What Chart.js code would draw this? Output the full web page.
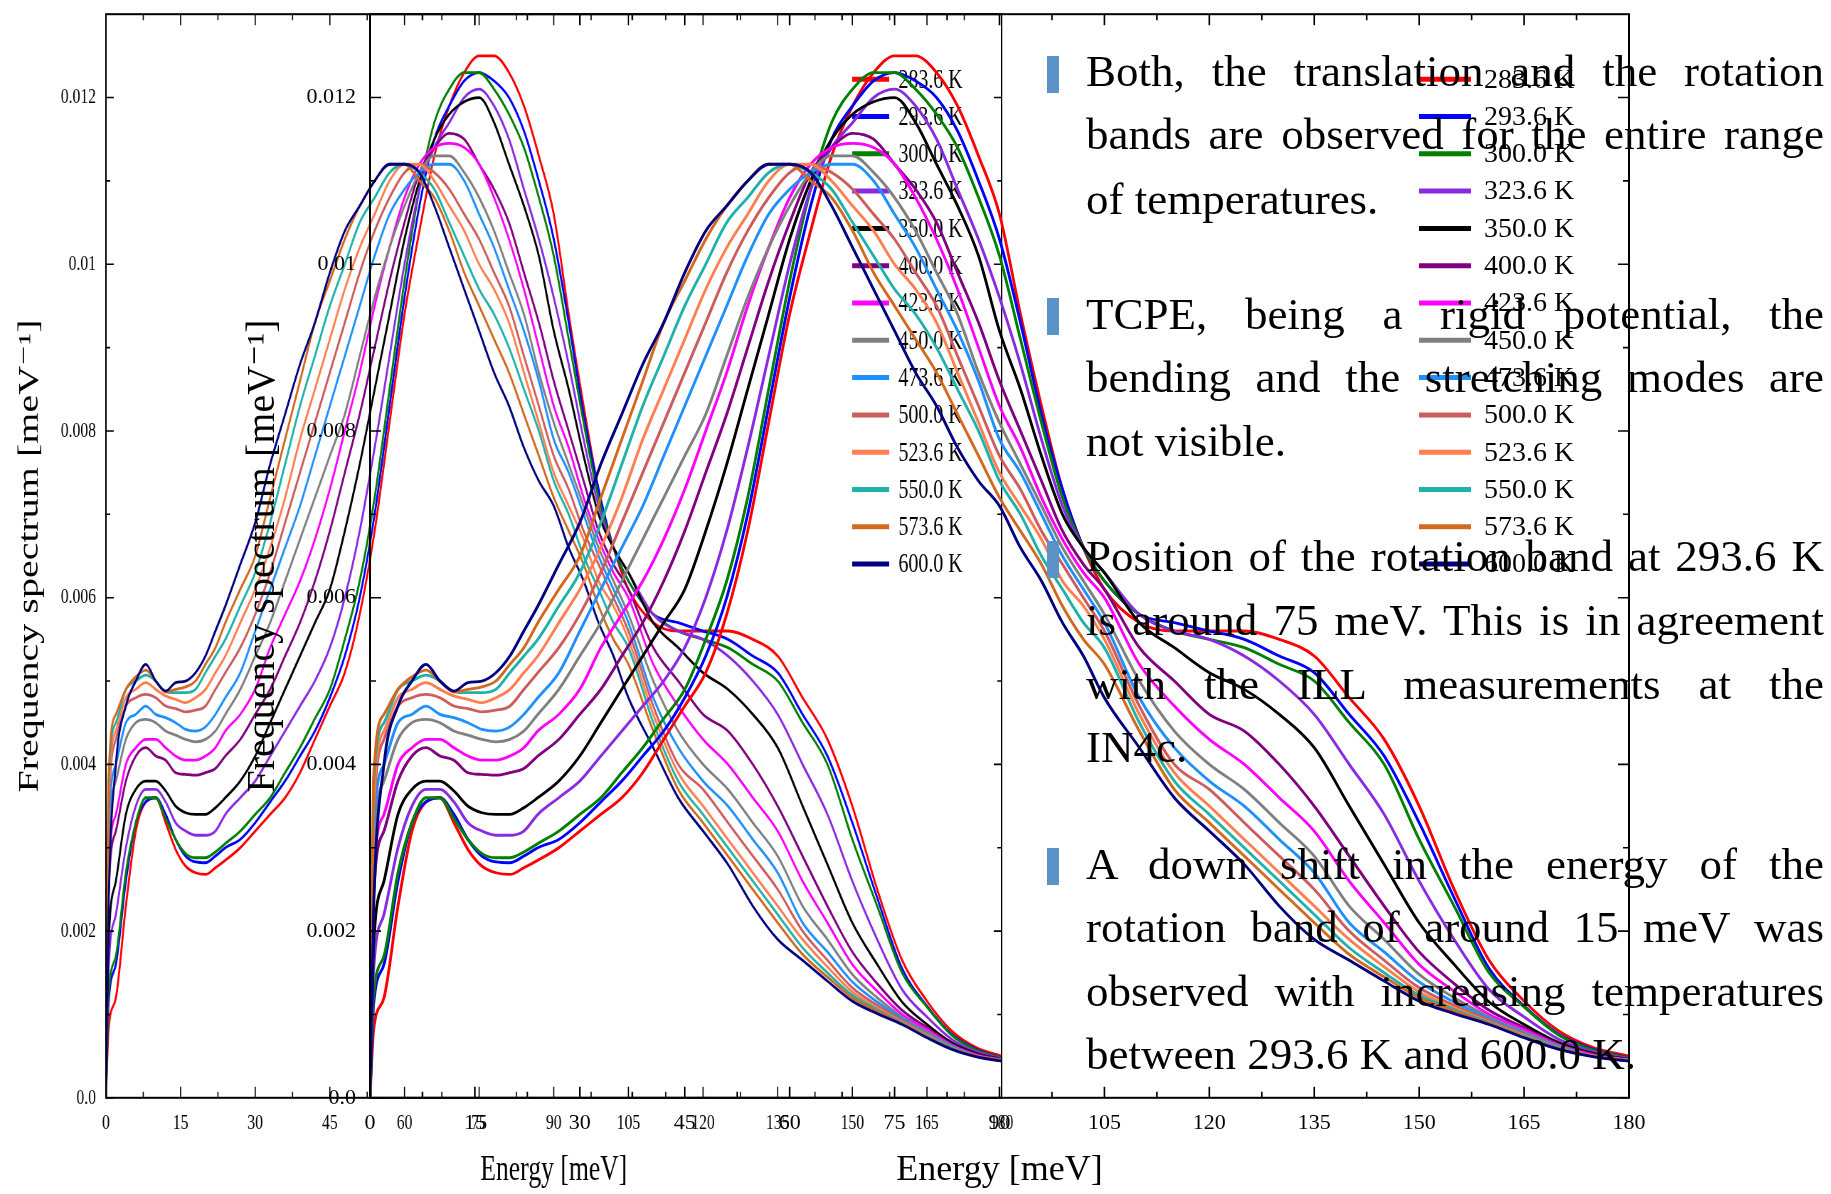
<!DOCTYPE html>
<html>
<head>
<meta charset="utf-8">
<script src="https://cdn.jsdelivr.net/npm/chart.js@4.4.0/dist/chart.umd.min.js"></script>
<style>
    html, body { margin: 0; padding: 0; background: #fff; }
    body { position: relative; width: 1831px; height: 1194px; overflow: hidden; }
    .fig { position: absolute; top: -13px; width: 1560px; height: 1207px; }
    #figWide { left: 200px; }
    /* same figure, squeezed horizontally */
    #figNarrow { left: -14.6px; transform: scaleX(0.7114); transform-origin: 0 0; }
    #notes { position: absolute; left: 1086px; top: 0; width: 738px; height: 1194px;
             font-family: 'Liberation Serif', serif; font-size: 45px; color: #000; }
    .ln { position: absolute; left: 0; width: 738px; line-height: 60px; white-space: normal; }
    .j { text-align: justify; text-align-last: justify; }
    .bul { position: absolute; left: -39px; width: 12px; height: 37px; background: #5b93c9; }
</style>
</head>
<body>
<div class="fig" id="figNarrow"><canvas id="chartNarrow"></canvas></div>
<div class="fig" id="figWide"><canvas id="chartWide"></canvas></div>

<div id="notes">
    <div class="bul" style="top:56px"></div>
    <div class="ln j" style="top:41px">Both, the translation and the rotation</div>
    <div class="ln j" style="top:104px">bands are observed for the entire range</div>
    <div class="ln" style="top:169px">of temperatures.</div>

    <div class="bul" style="top:298px"></div>
    <div class="ln j" style="top:284px">TCPE, being a rigid potential, the</div>
    <div class="ln j" style="top:347px">bending and the stretching modes are</div>
    <div class="ln" style="top:411px">not visible.</div>

    <div class="bul" style="top:541px"></div>
    <div class="ln j" style="top:526px">Position of the rotation band at 293.6 K</div>
    <div class="ln j" style="top:590px">is around 75 meV. This is in agreement</div>
    <div class="ln j" style="top:654px">with the ILL measurements at the</div>
    <div class="ln" style="top:717px">IN4c.</div>

    <div class="bul" style="top:848px"></div>
    <div class="ln j" style="top:834px">A down shift in the energy of the</div>
    <div class="ln j" style="top:897px">rotation band of around 15 meV was</div>
    <div class="ln j" style="top:961px">observed with increasing temperatures</div>
    <div class="ln" style="top:1024px">between 293.6 K and 600.0 K.</div>
</div>

<script>
// Frequency spectrum vs energy, one curve per temperature

const energy = [0, 0.5, 2, 4, 6, 8, 10, 12, 14, 16, 18, 20, 22, 24, 27, 30, 33, 36, 39, 42, 45, 48, 51, 54, 57, 60,
    63, 66, 69, 72, 75, 78, 81, 84, 87, 90, 93, 96, 99, 102, 105, 110, 115, 120, 125, 130, 135, 140, 145, 150,
    155, 160, 165, 170, 175, 180];

const t2836 = [0, 0.0008, 0.0012, 0.0023, 0.0032, 0.00355, 0.0036, 0.0033, 0.00298, 0.00278, 0.0027, 0.00268, 0.00276, 0.00285,
    0.0030, 0.0032, 0.0034, 0.0036, 0.0039, 0.0043, 0.0047, 0.0051, 0.0058, 0.0068, 0.0081, 0.0094, 0.0104, 0.0113,
    0.0119, 0.0123, 0.0125, 0.0125, 0.0123, 0.0119, 0.0113, 0.0106, 0.0094, 0.0083, 0.0073, 0.0066, 0.0061,
    0.0057, 0.0056, 0.0056, 0.0056, 0.0055, 0.0053, 0.0048, 0.0043, 0.0035, 0.0025, 0.00165, 0.00116, 0.0008, 0.0006, 0.0005];
const t2936 = [0, 0.0011, 0.0016, 0.0026, 0.0033, 0.00355, 0.0036, 0.0034, 0.0031, 0.0029, 0.00283, 0.00282, 0.0029, 0.0030,
    0.0031, 0.0033, 0.00355, 0.0038, 0.0041, 0.0044, 0.0048, 0.0053, 0.0060, 0.0070, 0.0083, 0.0096, 0.0107, 0.0115,
    0.0119, 0.0122, 0.0123, 0.0122, 0.0120, 0.0116, 0.0110, 0.0103, 0.0093, 0.0082, 0.0073, 0.0066, 0.0062,
    0.0058, 0.0057, 0.0056, 0.0055, 0.0053, 0.0051, 0.0046, 0.0041, 0.0033, 0.0024, 0.00155, 0.0011, 0.00076, 0.00058, 0.00048];
const t3000 = [0, 0.0012, 0.0017, 0.0027, 0.0033, 0.0036, 0.0036, 0.00335, 0.0031, 0.00293, 0.00288, 0.00288, 0.00295, 0.00305,
    0.0032, 0.0034, 0.0036, 0.0039, 0.0042, 0.00455, 0.0049, 0.0055, 0.0062, 0.0072, 0.0085, 0.0098, 0.0109, 0.0117,
    0.0121, 0.0123, 0.0123, 0.0121, 0.0118, 0.0114, 0.0108, 0.0101, 0.0091, 0.0081, 0.0072, 0.0066, 0.0062,
    0.0058, 0.0056, 0.0055, 0.0054, 0.0052, 0.0050, 0.0045, 0.0040, 0.0031, 0.0023, 0.0015, 0.00109, 0.00075, 0.00057, 0.00048];
const t3236 = [0, 0.0015, 0.0022, 0.0030, 0.0035, 0.0037, 0.0037, 0.00355, 0.0033, 0.0032, 0.00315, 0.00315, 0.0032, 0.0034,
    0.0036, 0.0038, 0.0041, 0.0044, 0.0047, 0.0050, 0.0054, 0.0060, 0.0068, 0.0078, 0.0089, 0.0100, 0.0109, 0.0114,
    0.0117, 0.0120, 0.0121, 0.0119, 0.0115, 0.0109, 0.0103, 0.0096, 0.0088, 0.0079, 0.0071, 0.0066, 0.0063,
    0.0058, 0.0056, 0.0055, 0.0053, 0.0050, 0.0046, 0.0040, 0.0034, 0.0026, 0.0019, 0.0013, 0.00097, 0.0007, 0.00055, 0.00047];
const t3500 = [0, 0.0018, 0.0026, 0.0034, 0.0037, 0.0038, 0.0038, 0.00368, 0.0035, 0.00342, 0.0034, 0.0034, 0.00348, 0.0036,
    0.0038, 0.0041, 0.0045, 0.0049, 0.0053, 0.0057, 0.0061, 0.0068, 0.0076, 0.0085, 0.0094, 0.0103, 0.0110, 0.0115,
    0.0118, 0.01195, 0.0120, 0.0117, 0.0112, 0.0107, 0.0101, 0.0092, 0.0085, 0.0077, 0.0070, 0.0066, 0.0063,
    0.0057, 0.0054, 0.0051, 0.0049, 0.0046, 0.0042, 0.0035, 0.0028, 0.0021, 0.0016, 0.00115, 0.00088, 0.00066, 0.00053, 0.00046];
const t4000 = [0, 0.0024, 0.0032, 0.0038, 0.0041, 0.0042, 0.0041, 0.00405, 0.0039, 0.00388, 0.00387, 0.0039, 0.00395, 0.0041,
    0.0043, 0.0046, 0.0049, 0.0053, 0.0057, 0.0062, 0.0068, 0.0075, 0.0082, 0.0090, 0.0098, 0.0105, 0.0111, 0.0114,
    0.01157, 0.0115, 0.0112, 0.0109, 0.0105, 0.0099, 0.0093, 0.0086, 0.0080, 0.0074, 0.0068, 0.0064, 0.0061,
    0.0054, 0.0050, 0.0046, 0.0044, 0.0040, 0.0035, 0.0029, 0.0023, 0.00175, 0.00137, 0.00105, 0.00084, 0.00064, 0.00052, 0.00046];
const t4236 = [0, 0.0026, 0.0034, 0.0040, 0.0042, 0.0043, 0.0043, 0.0042, 0.0041, 0.00405, 0.00405, 0.0041, 0.0042, 0.0044,
    0.0046, 0.0049, 0.0054, 0.0058, 0.0062, 0.0067, 0.0073, 0.0080, 0.0087, 0.0095, 0.0102, 0.0108, 0.0112, 0.0114,
    0.01145, 0.0114, 0.0112, 0.0108, 0.0103, 0.0097, 0.0090, 0.0083, 0.0078, 0.0072, 0.0067, 0.0063, 0.0060,
    0.0052, 0.0047, 0.0043, 0.0040, 0.0036, 0.0032, 0.0026, 0.0021, 0.0016, 0.00128, 0.0010, 0.00082, 0.00063, 0.00051, 0.00045];
const t4500 = [0, 0.0029, 0.0038, 0.0043, 0.0045, 0.00454, 0.0045, 0.0044, 0.00435, 0.0043, 0.00427, 0.0043, 0.0044, 0.0046,
    0.0049, 0.0053, 0.0057, 0.0062, 0.0067, 0.0072, 0.0077, 0.0082, 0.0089, 0.0096, 0.0102, 0.0107, 0.0111, 0.0113,
    0.0113, 0.0111, 0.0108, 0.0104, 0.0099, 0.0094, 0.0087, 0.0081, 0.0076, 0.0071, 0.0066, 0.0062, 0.0058,
    0.0050, 0.0044, 0.0040, 0.0037, 0.0033, 0.0029, 0.0023, 0.0019, 0.00148, 0.0012, 0.00097, 0.00079, 0.00062, 0.0005, 0.00045];
const t4736 = [0, 0.0031, 0.0040, 0.0045, 0.0046, 0.0047, 0.0046, 0.00456, 0.0045, 0.00442, 0.0044, 0.00445, 0.0046, 0.0048,
    0.0051, 0.0056, 0.0061, 0.0066, 0.0071, 0.0077, 0.0083, 0.0089, 0.0095, 0.0101, 0.0106, 0.0109, 0.0111, 0.0112,
    0.0112, 0.0110, 0.0106, 0.0102, 0.0097, 0.0092, 0.0086, 0.0079, 0.0075, 0.0070, 0.0065, 0.0061, 0.0057,
    0.0048, 0.0042, 0.0038, 0.0035, 0.0031, 0.0027, 0.0021, 0.00175, 0.00139, 0.00115, 0.00095, 0.00077, 0.00061, 0.0005, 0.00045];
const t5000 = [0, 0.0033, 0.0043, 0.0047, 0.0048, 0.00484, 0.0048, 0.0047, 0.00467, 0.00463, 0.00465, 0.0047, 0.0049, 0.0051,
    0.0054, 0.0058, 0.0063, 0.0069, 0.0075, 0.0081, 0.0087, 0.0093, 0.0099, 0.0104, 0.0108, 0.0111, 0.0112, 0.0111,
    0.0109, 0.0106, 0.0103, 0.0099, 0.0095, 0.0089, 0.0083, 0.0077, 0.0073, 0.0068, 0.0064, 0.0060, 0.0056,
    0.0047, 0.0040, 0.0037, 0.0033, 0.0029, 0.0025, 0.0020, 0.00165, 0.00132, 0.00111, 0.00093, 0.00076, 0.0006, 0.0005, 0.00045];
const t5236 = [0, 0.0035, 0.0044, 0.0048, 0.0049, 0.00498, 0.0049, 0.00482, 0.00478, 0.00474, 0.0048, 0.0049, 0.0051, 0.0053,
    0.0057, 0.0061, 0.0066, 0.0072, 0.0079, 0.0085, 0.0091, 0.0097, 0.0102, 0.0106, 0.0110, 0.0112, 0.0112, 0.0110,
    0.0107, 0.0104, 0.0100, 0.0097, 0.0093, 0.0087, 0.0081, 0.0075, 0.0071, 0.0067, 0.0062, 0.0059, 0.0055,
    0.0046, 0.0039, 0.0035, 0.0031, 0.0027, 0.0023, 0.0019, 0.00157, 0.00127, 0.00108, 0.00091, 0.00075, 0.0006, 0.0005, 0.00045];
const t5500 = [0, 0.0037, 0.0045, 0.0049, 0.0050, 0.00507, 0.0050, 0.00487, 0.00486, 0.00486, 0.0049, 0.0051, 0.0053, 0.0055,
    0.0059, 0.0063, 0.0069, 0.0076, 0.0083, 0.0089, 0.0095, 0.0100, 0.0105, 0.0108, 0.0111, 0.0112, 0.0111, 0.0109,
    0.0105, 0.0101, 0.0097, 0.0094, 0.0090, 0.0085, 0.0080, 0.0074, 0.0070, 0.0065, 0.0061, 0.0057, 0.0054,
    0.0045, 0.0038, 0.0034, 0.0030, 0.0026, 0.0022, 0.0018, 0.0015, 0.00123, 0.00106, 0.0009, 0.00074, 0.0006, 0.0005, 0.00045];
const t5736 = [0, 0.0038, 0.0046, 0.0049, 0.00505, 0.00513, 0.0050, 0.00487, 0.0049, 0.00493, 0.0050, 0.0052, 0.0054, 0.0057,
    0.0061, 0.0065, 0.0072, 0.0079, 0.0086, 0.0093, 0.0098, 0.0103, 0.0107, 0.0110, 0.0112, 0.0112, 0.0110, 0.0108,
    0.0104, 0.0099, 0.0095, 0.0091, 0.0087, 0.0082, 0.0077, 0.0072, 0.0068, 0.0064, 0.0059, 0.0055, 0.0052,
    0.0044, 0.0037, 0.0033, 0.0029, 0.0025, 0.0021, 0.00172, 0.00145, 0.0012, 0.00104, 0.00089, 0.00073, 0.00059, 0.0005, 0.00045];
const t6000 = [0, 0.0022, 0.0040, 0.0047, 0.0050, 0.0052, 0.0050, 0.00488, 0.00498, 0.0050, 0.0051, 0.0053, 0.0056, 0.0059,
    0.0064, 0.0069, 0.0076, 0.0082, 0.0088, 0.0093, 0.0099, 0.0104, 0.0107, 0.0110, 0.0112, 0.0112, 0.0111, 0.0107,
    0.0102, 0.0097, 0.0092, 0.0087, 0.0083, 0.0078, 0.0074, 0.0071, 0.0066, 0.0062, 0.0057, 0.0053, 0.0048,
    0.0042, 0.0036, 0.0032, 0.0028, 0.0023, 0.0019, 0.00165, 0.0014, 0.00116, 0.00101, 0.00088, 0.00072, 0.00058, 0.00049, 0.00044];

const temperatureLabels = ['283.6 K', '293.6 K', '300.0 K', '323.6 K', '350.0 K', '400.0 K', '423.6 K',
    '450.0 K', '473.6 K', '500.0 K', '523.6 K', '550.0 K', '573.6 K', '600.0 K'];
const seriesValues = [t2836, t2936, t3000, t3236, t3500, t4000, t4236, t4500, t4736, t5000, t5236, t5500, t5736, t6000];
const lineColors = ['#ff0000', '#0000ff', '#008000', '#8a2be2', '#000000', '#800080', '#ff00ff',
    '#808080', '#1e90ff', '#cd5c5c', '#ff7f50', '#20b2aa', '#d2691e', '#000080'];

const xTicks = [0, 15, 30, 45, 60, 75, 90, 105, 120, 135, 150, 165, 180];
const xMinorTicks = [7.5, 22.5, 37.5, 52.5, 67.5, 82.5, 97.5, 112.5, 127.5, 142.5, 157.5, 172.5];
const yTicks = [0, 0.002, 0.004, 0.006, 0.008, 0.01, 0.012];
const yTickLabels = ['0.0', '0.002', '0.004', '0.006', '0.008', '0.01', '0.012'];
const yMinorTicks = [0.001, 0.003, 0.005, 0.007, 0.009, 0.011];

const SERIF = "'Liberation Serif', 'DejaVu Serif', serif";

// frame, inward tick marks and the legend box
const frameAndLegend = {
    id: 'frameAndLegend',
    afterDraw(chart) {
        const { ctx, chartArea: a, scales: { x, y } } = chart;
        ctx.save();
        ctx.strokeStyle = '#000';
        ctx.lineWidth = 2;
        ctx.strokeRect(a.left, a.top, a.right - a.left, a.bottom - a.top);

        ctx.lineWidth = 1.6;
        ctx.beginPath();
        const xMark = (v, len) => {
            const px = x.getPixelForValue(v);
            ctx.moveTo(px, a.bottom); ctx.lineTo(px, a.bottom - len);
            ctx.moveTo(px, a.top); ctx.lineTo(px, a.top + len);
        };
        const yMark = (v, len) => {
            const py = y.getPixelForValue(v);
            ctx.moveTo(a.left, py); ctx.lineTo(a.left + len, py);
            ctx.moveTo(a.right, py); ctx.lineTo(a.right - len, py);
        };
        xTicks.forEach(v => xMark(v, 11));
        xMinorTicks.forEach(v => xMark(v, 6));
        yTicks.forEach(v => yMark(v, 11));
        yMinorTicks.forEach(v => yMark(v, 6));
        ctx.stroke();

        // legend, top right inside the axes
        ctx.font = '28px ' + SERIF;
        ctx.textBaseline = 'middle';
        ctx.textAlign = 'left';
        chart.data.datasets.forEach((ds, i) => {
            const rowY = a.top + 65 + i * 37.3;
            ctx.strokeStyle = ds.borderColor;
            ctx.lineWidth = 5;
            ctx.beginPath();
            ctx.moveTo(a.right - 210, rowY);
            ctx.lineTo(a.right - 158, rowY);
            ctx.stroke();
            ctx.fillStyle = '#000';
            ctx.fillText(ds.label, a.right - 145, rowY + 1);
        });
        ctx.restore();
    }
};

function buildChart(canvasId) {
    const datasets = seriesValues.map((vals, i) => ({
        label: temperatureLabels[i],
        data: energy.map((e, k) => ({ x: e, y: vals[k] })),
        borderColor: lineColors[i],
        borderWidth: 2.8,
        pointRadius: 0,
        fill: false,
        cubicInterpolationMode: 'monotone',
        order: seriesValues.length - 1 - i
    }));

    return new Chart(document.getElementById(canvasId), {
        type: 'line',
        data: { datasets },
        options: {
            responsive: true,
            maintainAspectRatio: false,
            animation: false,
            events: [],
            layout: { autoPadding: false, padding: { left: 0, right: 131, top: 0, bottom: 0 } },
            plugins: { legend: { display: false }, tooltip: { enabled: false } },
            scales: {
                x: {
                    type: 'linear', min: 0, max: 180,
                    grid: { display: false, drawTicks: false },
                    border: { display: false },
                    afterBuildTicks: s => { s.ticks = xTicks.map(v => ({ value: v })); },
                    afterFit: s => { s.height = 96.2; },
                    ticks: {
                        color: '#000', padding: 12, autoSkip: false, maxRotation: 0,
                        font: { family: SERIF, size: 22 },
                        callback: v => String(v)
                    },
                    title: {
                        display: true, text: 'Energy [meV]', color: '#000',
                        font: { family: SERIF, size: 36 },
                        padding: { top: 0, bottom: 1.4 }
                    }
                },
                y: {
                    type: 'linear', min: 0, max: 0.013,
                    grid: { display: false, drawTicks: false },
                    border: { display: false },
                    afterBuildTicks: s => { s.ticks = yTicks.map(v => ({ value: v })); },
                    afterFit: s => { s.width = 170; },
                    ticks: {
                        color: '#000', padding: 14, autoSkip: false,
                        font: { family: SERIF, size: 22 },
                        callback: (v, i) => yTickLabels[i]
                    },
                    title: {
                        display: true, text: 'Frequency spectrum [meV\u207B\u00B9]', color: '#000',
                        font: { family: SERIF, size: 40 },
                        padding: { top: 39, bottom: 0 }
                    }
                }
            }
        },
        plugins: [frameAndLegend]
    });
}

buildChart('chartNarrow');
buildChart('chartWide');
</script>
</body>
</html>
